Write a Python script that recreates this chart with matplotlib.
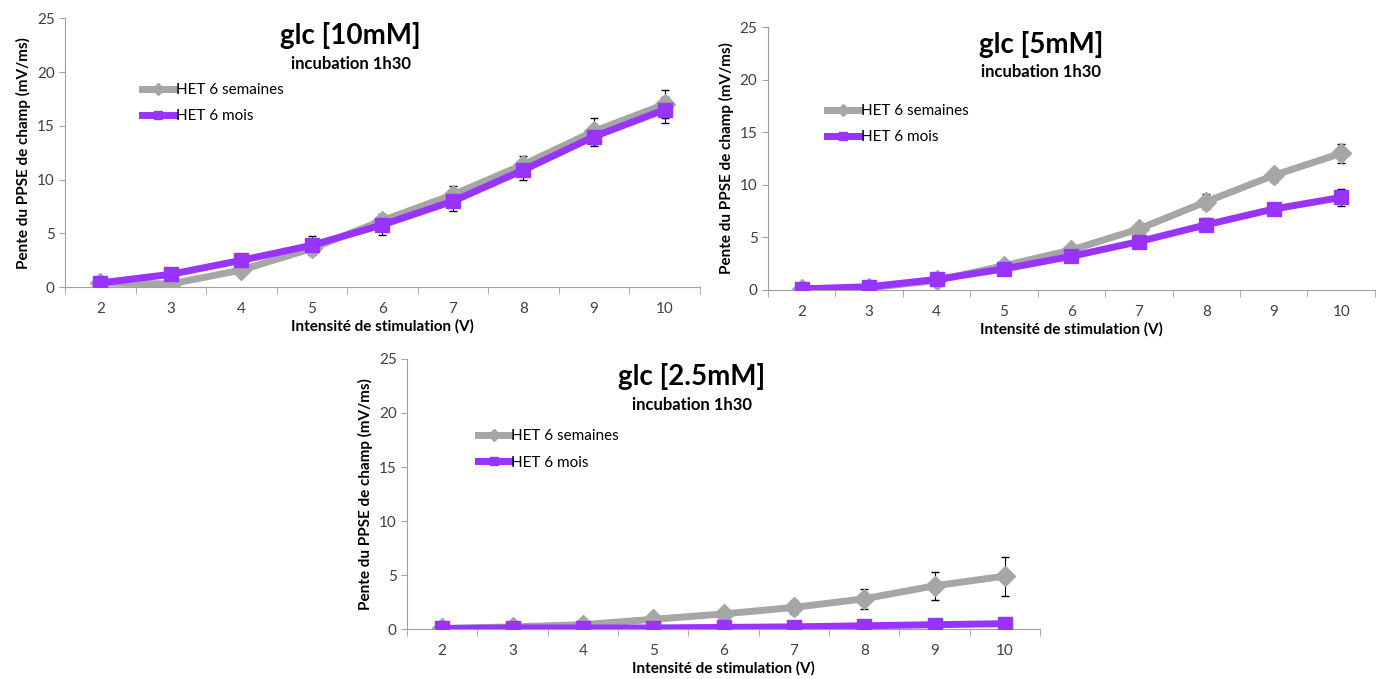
import matplotlib.pyplot as plt
import numpy as np

plt.rcParams['font.family'] = ['Lato', 'DejaVu Sans']

intensites = ['2', '3', '4', '5', '6', '7', '8', '9', '10']

# glc 10mM
sem_10 = [0.4, 0.3, 1.6, 3.6, 6.2, 8.6, 11.4, 14.5, 17.0]
sem_10_err = [0.2, 0.3, 0.4, 0.5, 0.6, 0.8, 0.8, 1.2, 1.3]
mois_10 = [0.4, 1.2, 2.5, 3.9, 5.8, 8.0, 10.9, 14.0, 16.5]
mois_10_err = [0.2, 0.3, 0.6, 0.9, 0.9, 0.9, 0.9, 0.9, 1.2]

# glc 5mM
sem_5 = [0.1, 0.2, 0.9, 2.3, 3.8, 5.8, 8.4, 10.9, 13.0]
sem_5_err = [0.1, 0.1, 0.2, 0.3, 0.4, 0.6, 0.7, 0.6, 0.9]
mois_5 = [0.1, 0.3, 1.0, 2.0, 3.2, 4.6, 6.2, 7.7, 8.8]
mois_5_err = [0.1, 0.1, 0.2, 0.3, 0.4, 0.5, 0.6, 0.6, 0.8]

# glc 2.5mM
sem_25 = [0.05, 0.2, 0.4, 0.9, 1.4, 2.0, 2.8, 4.0, 4.9]
sem_25_err = [0.05, 0.1, 0.1, 0.2, 0.3, 0.6, 0.9, 1.3, 1.8]
mois_25 = [0.05, 0.1, 0.1, 0.1, 0.15, 0.2, 0.3, 0.4, 0.5]
mois_25_err = [0.02, 0.05, 0.05, 0.05, 0.05, 0.1, 0.1, 0.1, 0.1]

GRAY = '#A6A6A6'
PURPLE = '#9933FF'


def draw_panel(ax, title, sem, sem_err, mois, mois_err, leg_xy):
    x = np.arange(len(intensites))
    ax.errorbar(x, sem, yerr=sem_err, fmt='none', ecolor='black', elinewidth=0.8, capsize=3, zorder=2)
    ax.errorbar(x, mois, yerr=mois_err, fmt='none', ecolor='black', elinewidth=0.8, capsize=3, zorder=2)
    ax.plot(x, sem, color=GRAY, lw=5, marker='D', ms=10, label='HET 6 semaines', zorder=3)
    ax.plot(x, mois, color=PURPLE, lw=5, marker='s', ms=10.5, label='HET 6 mois', zorder=4)

    ax.set_xlim(-0.5, len(intensites) - 0.5)
    ax.set_ylim(0, 25)
    ax.set_yticks([0, 5, 10, 15, 20, 25])
    ax.set_xticks(x)
    ax.set_xticklabels(intensites)
    ax.set_xticks(np.arange(-0.5, len(intensites), 1.0), minor=True)
    ax.tick_params(axis='x', which='major', length=0, labelsize=11, pad=11, labelcolor='#404040')
    ax.tick_params(axis='x', which='minor', length=5, color='#A0A0A0')
    ax.tick_params(axis='y', length=4, color='#A0A0A0', labelsize=11, labelcolor='#404040')
    for s in ['top', 'right']:
        ax.spines[s].set_visible(False)
    for s in ['left', 'bottom']:
        ax.spines[s].set_color('#A0A0A0')

    ax.set_ylabel('Pente du PPSE de champ (mV/ms)', fontsize=11, fontweight='bold')
    ax.set_xlabel('Intensité de stimulation (V)', fontsize=11, fontweight='bold', labelpad=2)

    ax.text(0.45, 0.935, title, transform=ax.transAxes, ha='center', va='center',
            fontsize=20, fontweight='bold')
    ax.text(0.45, 0.83, 'incubation 1h30', transform=ax.transAxes, ha='center', va='center',
            fontsize=12, fontweight='bold')
    ax.legend(loc='upper left', bbox_to_anchor=leg_xy, frameon=False, fontsize=11,
              handlelength=2.1, handletextpad=0.1, labelspacing=0.8, markerscale=0.6)


fig = plt.figure(figsize=(13.77, 6.79), dpi=100)
ax1 = fig.add_axes([0.0472, 0.577, 0.461, 0.396])
ax2 = fig.add_axes([0.5577, 0.573, 0.4408, 0.387])
ax3 = fig.add_axes([0.2956, 0.0736, 0.4597, 0.3977])

draw_panel(ax1, 'glc [10mM]', sem_10, sem_10_err, mois_10, mois_10_err, (0.1, 0.81))
draw_panel(ax2, 'glc [5mM]', sem_5, sem_5_err, mois_5, mois_5_err, (0.075, 0.76))
draw_panel(ax3, 'glc [2.5mM]', sem_25, sem_25_err, mois_25, mois_25_err, (0.09, 0.79))

fig.savefig('out.png', dpi=100)
